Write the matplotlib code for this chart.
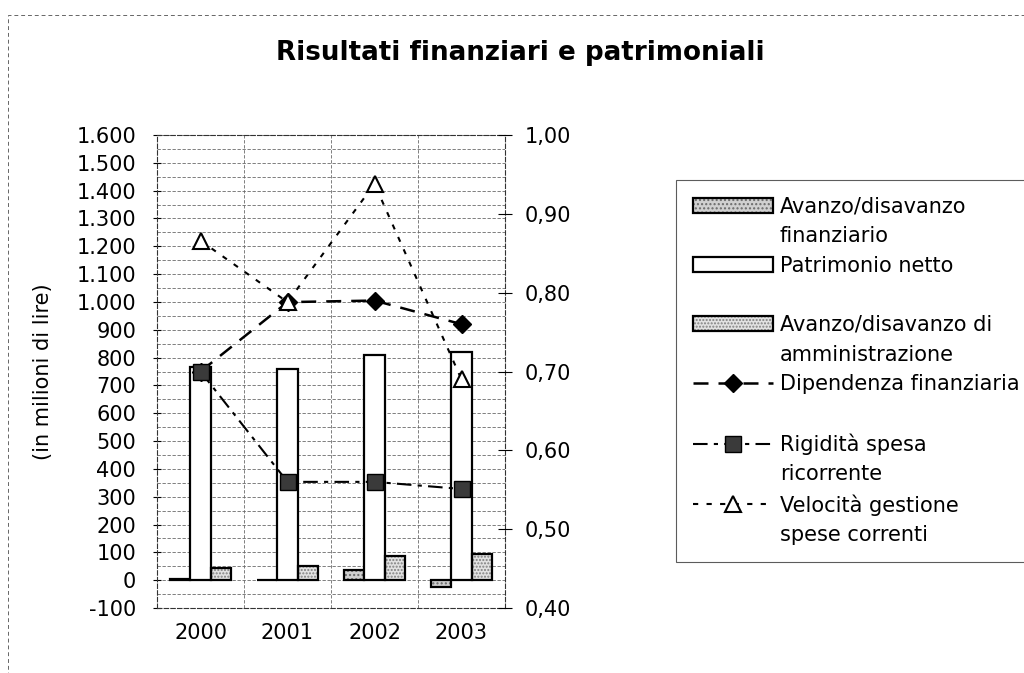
import matplotlib.pyplot as plt
import numpy as np
from matplotlib.ticker import FuncFormatter, MultipleLocator, FixedLocator
from matplotlib.lines import Line2D
from matplotlib.patches import Rectangle

years = ["2000", "2001", "2002", "2003"]

# bars, left axis (in milioni di lire)
avanzo_finanziario = [5, 2, 35, -26]
patrimonio_netto = [765, 758, 808, 820]
avanzo_amministrazione = [45, 50, 86, 94]

# lines, right axis
dipendenza = [0.700, 0.788, 0.790, 0.760]
rigidita = [0.700, 0.560, 0.560, 0.551]
velocita = [0.866, 0.788, 0.938, 0.690]

plt.rcParams['font.family'] = ['DejaVu Sans']
plt.rcParams['hatch.linewidth'] = 1.0

fig = plt.figure(figsize=(10.24, 6.73), dpi=100)
ax = fig.add_axes([157 / 1024, 1 - 608 / 673, 348 / 1024, 473 / 673])

x = np.arange(len(years))
w = 0.23
grid_kw = dict(color='#6a6a6a', linestyle=(0, (4, 2)), linewidth=0.6)

# two layers per textured bar: grey speckle, then black outline
fin_fill = ax.bar(x - w, avanzo_finanziario, w, color='#d0d0d0', hatch='....',
                  edgecolor='#6a6a6a', linewidth=0, zorder=2)
fin_edge = ax.bar(x - w, avanzo_finanziario, w, fill=False, edgecolor='black',
                  linewidth=1.6, zorder=3)
pat = ax.bar(x, patrimonio_netto, w, color='white', edgecolor='black',
             linewidth=1.6, zorder=3)
amm_fill = ax.bar(x + w, avanzo_amministrazione, w, color='#e2e2e2', hatch='.....',
                  edgecolor='#808080', linewidth=0, zorder=2)
amm_edge = ax.bar(x + w, avanzo_amministrazione, w, fill=False, edgecolor='black',
                  linewidth=1.6, zorder=3)

ax.set_xlim(-0.5, 3.5)
ax.set_ylim(-100, 1600)
ax.set_xticks(x)
ax.set_xticklabels(years, fontsize=15)
ax.xaxis.set_minor_locator(FixedLocator([0.5, 1.5, 2.5]))
ax.tick_params(axis='x', which='both', length=0, pad=11)
ax.yaxis.set_major_locator(MultipleLocator(100))
ax.yaxis.set_minor_locator(MultipleLocator(50))
ax.yaxis.set_major_formatter(FuncFormatter(lambda v, p: f"{v:,.0f}".replace(",", ".")))
ax.tick_params(axis='y', which='major', direction='inout', length=6, pad=12, labelsize=15)
ax.tick_params(axis='y', which='minor', length=0)
ax.grid(True, axis='y', which='both', **grid_kw)
ax.grid(True, axis='x', which='minor', **grid_kw)
ax.set_axisbelow(True)
for s in ax.spines.values():
    s.set_linestyle((0, (4, 2)))
    s.set_linewidth(0.8)
    s.set_color('#333333')
ax.set_ylabel('(in milioni di lire)', fontsize=15)
ax.yaxis.set_label_coords(-0.30, 0.5)

ax2 = ax.twinx()
ax2.plot(x, dipendenza, color='black', linestyle=(0, (6, 4)), linewidth=1.8,
         marker='D', markersize=9, markerfacecolor='black', markeredgecolor='black',
         label='Dipendenza finanziaria')
ax2.plot(x, rigidita, color='black', linestyle=(0, (7, 3, 2, 3)), linewidth=1.5,
         marker='s', markersize=12, markerfacecolor='#3a3a3a', markeredgecolor='black',
         label='Rigidità spesa ricorrente')
ax2.plot(x, velocita, color='black', linestyle=(0, (2.5, 4)), linewidth=1.5,
         marker='^', markersize=11, markerfacecolor='white', markeredgecolor='black',
         markeredgewidth=1.5, label='Velocità gestione spese correnti')
ax2.set_ylim(0.4, 1.0)
ax2.yaxis.set_major_locator(MultipleLocator(0.1))
ax2.yaxis.set_major_formatter(FuncFormatter(lambda v, p: f"{v:.2f}".replace(".", ",")))
ax2.tick_params(axis='y', direction='inout', length=10, pad=9, labelsize=15)
for s in ax2.spines.values():
    s.set_visible(False)

fig.text(0.508, 0.921, 'Risultati finanziari e patrimoniali', ha='center', va='center',
         fontsize=18.8, fontweight='bold')

# legend: one row per text line, empty handles for second lines
blank = Line2D([], [], alpha=0)
lines = ax2.get_lines()
handles = [(fin_fill, fin_edge), blank, pat, blank, (amm_fill, amm_edge), blank,
           lines[0], blank, lines[1], blank, lines[2], blank]
labels = ['Avanzo/disavanzo', 'finanziario', 'Patrimonio netto', '',
          'Avanzo/disavanzo di', 'amministrazione', 'Dipendenza finanziaria', '',
          'Rigidità spesa', 'ricorrente', 'Velocità gestione', 'spese correnti']
leg = fig.legend(handles, labels, loc='upper left', bbox_to_anchor=(676 / 1024, 1 - 180 / 673),
                 fontsize=15, handlelength=3.84, handletextpad=0.34, labelspacing=0.46,
                 borderpad=0.8, borderaxespad=0, numpoints=1, fancybox=False,
                 frameon=True)
leg.get_frame().set_edgecolor('#333333')
leg.get_frame().set_linewidth(0.8)

fig.add_artist(Rectangle((8 / 1024, -0.1), 1.2, 1.1 - 15 / 673, transform=fig.transFigure,
                         fill=False, edgecolor='#666666', linewidth=0.7,
                         linestyle=(0, (4, 3))))

fig.savefig('out.png', dpi=100)
